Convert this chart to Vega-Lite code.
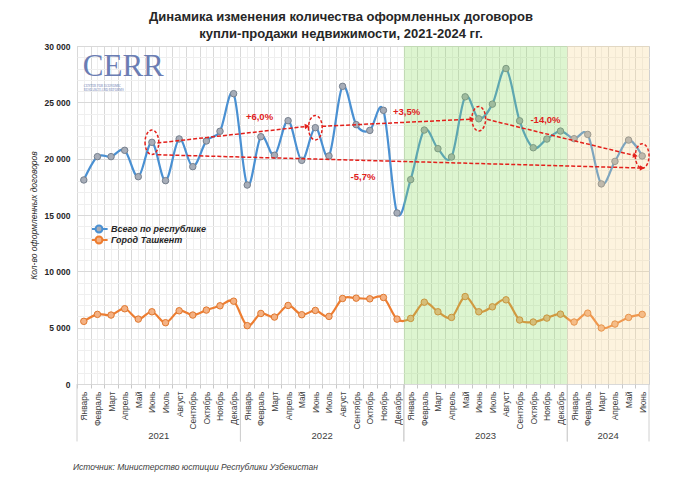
{
  "$schema": "https://vega.github.io/schema/vega-lite/v6.json",
  "autosize": "none",
  "width": 572,
  "height": 338,
  "padding": {"left": 77, "top": 46, "right": 31, "bottom": 102},
  "config": {"view": {"stroke": "#d0d0d0"}, "font": "Liberation Sans"},
  "title": {
    "text": ["Динамика изменения количества оформленных договоров", "купли-продажи недвижимости, 2021-2024 гг."],
    "font": "Liberation Sans", "fontSize": 13, "fontWeight": "bold", "color": "#262626",
    "anchor": "middle", "dx": -22, "offset": 1, "lineHeight": 17
  },
  "datasets": {
    "yearspans": [
      {"year": 2021, "start": -0.5, "end": 11.5},
      {"year": 2022, "start": 11.5, "end": 23.5},
      {"year": 2023, "start": 23.5, "end": 35.5},
      {"year": 2024, "start": 35.5, "end": 41.5}
    ],
    "arrows": [
      {"label": "+6,0%", "x1": 5.4, "y1": 21390, "x2": 16.4, "y2": 22870, "lx": 12.9, "ly": 23690},
      {"label": "+3,5%", "x1": 17.5, "y1": 22870, "x2": 28.5, "y2": 23510, "lx": 23.7, "ly": 24160},
      {"label": "-14,0%", "x1": 29.6, "y1": 23490, "x2": 40.5, "y2": 20260, "lx": 33.9, "ly": 23430},
      {"label": "-5,7%", "x1": 5.4, "y1": 20350, "x2": 41.0, "y2": 19170, "lx": 20.5, "ly": 18400}
    ]
  },
  "data": {"values": [
    {"i": 0, "year": 2021, "Всего по республике": 18110, "Город Ташкент": 5560},
    {"i": 1, "year": 2021, "Всего по республике": 20180, "Город Ташкент": 6180},
    {"i": 2, "year": 2021, "Всего по республике": 20180, "Город Ташкент": 6120},
    {"i": 3, "year": 2021, "Всего по республике": 20740, "Город Ташкент": 6680},
    {"i": 4, "year": 2021, "Всего по республике": 18400, "Город Ташкент": 5760},
    {"i": 5, "year": 2021, "Всего по республике": 21450, "Город Ташкент": 6410},
    {"i": 6, "year": 2021, "Всего по республике": 18050, "Город Ташкент": 5440},
    {"i": 7, "year": 2021, "Всего по республике": 21750, "Город Ташкент": 6500},
    {"i": 8, "year": 2021, "Всего по республике": 19290, "Город Ташкент": 6120},
    {"i": 9, "year": 2021, "Всего по республике": 21570, "Город Ташкент": 6560},
    {"i": 10, "year": 2021, "Всего по республике": 22430, "Город Ташкент": 6940},
    {"i": 11, "year": 2021, "Всего по республике": 25770, "Город Ташкент": 7350},
    {"i": 12, "year": 2022, "Всего по республике": 17660, "Город Ташкент": 5180},
    {"i": 13, "year": 2022, "Всего по республике": 21950, "Город Ташкент": 6260},
    {"i": 14, "year": 2022, "Всего по республике": 20300, "Город Ташкент": 5940},
    {"i": 15, "year": 2022, "Всего по республике": 23370, "Город Ташкент": 6970},
    {"i": 16, "year": 2022, "Всего по республике": 19850, "Город Ташкент": 6150},
    {"i": 17, "year": 2022, "Всего по республике": 22750, "Город Ташкент": 6530},
    {"i": 18, "year": 2022, "Всего по республике": 20240, "Город Ташкент": 6000},
    {"i": 19, "year": 2022, "Всего по республике": 26420, "Город Ташкент": 7590},
    {"i": 20, "year": 2022, "Всего по республике": 23020, "Город Ташкент": 7620},
    {"i": 21, "year": 2022, "Всего по республике": 22510, "Город Ташкент": 7560},
    {"i": 22, "year": 2022, "Всего по республике": 24290, "Город Ташкент": 7680},
    {"i": 23, "year": 2022, "Всего по республике": 15180, "Город Ташкент": 5760},
    {"i": 24, "year": 2023, "Всего по республике": 18140, "Город Ташкент": 5820},
    {"i": 25, "year": 2023, "Всего по республике": 22540, "Город Ташкент": 7260},
    {"i": 26, "year": 2023, "Всего по республике": 20890, "Город Ташкент": 6410},
    {"i": 27, "year": 2023, "Всего по республике": 20150, "Город Ташкент": 5910},
    {"i": 28, "year": 2023, "Всего по республике": 25490, "Город Ташкент": 7760},
    {"i": 29, "year": 2023, "Всего по республике": 23540, "Город Ташкент": 6410},
    {"i": 30, "year": 2023, "Всего по республике": 24840, "Город Ташкент": 6850},
    {"i": 31, "year": 2023, "Всего по республике": 28000, "Город Ташкент": 7470},
    {"i": 32, "year": 2023, "Всего по республике": 23360, "Город Ташкент": 5680},
    {"i": 33, "year": 2023, "Всего по республике": 20970, "Город Ташкент": 5500},
    {"i": 34, "year": 2023, "Всего по республике": 21740, "Город Ташкент": 5850},
    {"i": 35, "year": 2023, "Всего по республике": 22450, "Город Ташкент": 6200},
    {"i": 36, "year": 2024, "Всего по республике": 21770, "Город Ташкент": 5500},
    {"i": 37, "year": 2024, "Всего по республике": 22150, "Город Ташкент": 6290},
    {"i": 38, "year": 2024, "Всего по республике": 17760, "Город Ташкент": 4970},
    {"i": 39, "year": 2024, "Всего по республике": 19760, "Город Ташкент": 5320},
    {"i": 40, "year": 2024, "Всего по республике": 21650, "Город Ташкент": 5910},
    {"i": 41, "year": 2024, "Всего по республике": 20240, "Город Ташкент": 6180}
  ]},
  "resolve": {"axis": {"x": "independent", "y": "independent"}},
  "layer": [
    {
      "transform": [{"fold": ["Всего по республике", "Город Ташкент"], "as": ["series", "value"]}],
      "mark": {"type": "line", "interpolate": "cardinal", "strokeWidth": 2.2},
      "encoding": {
        "x": {"field": "i", "type": "quantitative",
          "scale": {"domain": [-0.5, 41.5], "nice": false, "zero": false},
          "axis": {
            "orient": "bottom",
            "values": [-0.5, 0.5, 1.5, 2.5, 3.5, 4.5, 5.5, 6.5, 7.5, 8.5, 9.5, 10.5, 11.5, 12.5, 13.5, 14.5, 15.5, 16.5, 17.5, 18.5, 19.5, 20.5, 21.5, 22.5, 23.5, 24.5, 25.5, 26.5, 27.5, 28.5, 29.5, 30.5, 31.5, 32.5, 33.5, 34.5, 35.5, 36.5, 37.5, 38.5, 39.5, 40.5],
            "grid": true, "gridColor": "#d9d9d9", "domain": false,
            "ticks": true, "tickSize": 4, "tickColor": "#c8c8c8",
            "labelExpr": "['Январь','Февраль','Март','Апрель','Май','Июнь','Июль','Август','Сентябрь','Октябрь','Ноябрь','Декабрь'][round(datum.value + 0.5) % 12]",
            "labelAngle": -90, "labelOffset": 6.8, "labelPadding": 3,
            "labelFont": "Liberation Sans", "labelFontSize": 8.5, "labelColor": "#404040",
            "labelBound": false, "labelOverlap": false, "labelFlush": false,
            "title": null
          }
        },
        "y": {"field": "value", "type": "quantitative",
          "scale": {"domain": [0, 30000], "nice": false},
          "axis": {
            "orient": "left",
            "values": [0, 5000, 10000, 15000, 20000, 25000, 30000],
            "grid": true, "gridColor": "#d9d9d9", "domain": false, "ticks": false,
            "labelExpr": "replace(format(datum.value, ','), ',', ' ')",
            "labelFont": "Liberation Sans", "labelFontWeight": "bold", "labelFontSize": 8.5, "labelColor": "#262626",
            "labelPadding": 7,
            "title": "Кол-во оформленных договоров",
            "titleFont": "Liberation Sans", "titleFontStyle": "italic", "titleFontWeight": "normal",
            "titleFontSize": 8.5, "titleColor": "#262626", "titlePadding": 6
          }
        },
        "color": {"field": "series", "type": "nominal",
          "scale": {"domain": ["Всего по республике", "Город Ташкент"], "range": ["#4a90d2", "#ed7d31"]},
          "legend": {
            "orient": "none", "legendX": 15, "legendY": 178, "title": null, "padding": 0,
            "symbolType": "M -1.5 0 L -0.6 0 M 0.6 0 L 1.5 0 M 0.6 0 A 0.6 0.6 0 1 0 -0.6 0 A 0.6 0.6 0 1 0 0.6 0 Z",
            "symbolSize": 132, "symbolStrokeWidth": 2, "clipHeight": 10,
            "labelFont": "Liberation Sans", "labelFontSize": 9, "labelFontStyle": "italic", "labelFontWeight": "bold",
            "labelColor": "#262626", "labelOffset": 5, "rowPadding": 1,
            "encode": {"symbols": {"update": {"fill": {"signal": "datum.value === 'Город Ташкент' ? '#f4b183' : '#a7adb8'"}}}}
          }
        }
      }
    },
    {
      "transform": [{"fold": ["Всего по республике", "Город Ташкент"], "as": ["series", "value"]}],
      "mark": {"type": "point", "filled": true, "size": 42, "strokeWidth": 1, "opacity": 1},
      "encoding": {
        "x": {"field": "i", "type": "quantitative", "axis": null},
        "y": {"field": "value", "type": "quantitative", "axis": null},
        "fill": {"field": "series", "type": "nominal",
          "scale": {"domain": ["Всего по республике", "Город Ташкент"], "range": ["#a7adb8", "#f4b183"]}, "legend": null},
        "stroke": {"field": "series", "type": "nominal",
          "scale": {"domain": ["Всего по республике", "Город Ташкент"], "range": ["#76808e", "#e0782f"]}, "legend": null}
      }
    },
    {
      "data": {"name": "yearspans"},
      "transform": [{"filter": "datum.year === 2023"}],
      "mark": {"type": "rect", "color": "#8ede62", "opacity": 0.3},
      "encoding": {
        "x": {"field": "start", "type": "quantitative",
          "axis": {"orient": "bottom", "values": [0, 1, 2, 3, 4, 5, 6, 7, 8, 9, 10, 11, 12, 13, 14, 15, 16, 17, 18, 19, 20, 21, 22, 23, 24, 25, 26, 27, 28, 29, 30, 31, 32, 33, 34, 35, 36, 37, 38, 39, 40, 41],
            "grid": true, "gridColor": "#efefef", "labels": false, "ticks": false, "domain": false, "title": null}},
        "x2": {"field": "end"},
        "y": {"datum": 0, "type": "quantitative",
          "axis": {"orient": "left", "values": [1000, 2000, 3000, 4000, 6000, 7000, 8000, 9000, 11000, 12000, 13000, 14000, 16000, 17000, 18000, 19000, 21000, 22000, 23000, 24000, 26000, 27000, 28000, 29000],
            "grid": true, "gridColor": "#efefef", "labels": false, "ticks": false, "domain": false, "title": null}},
        "y2": {"datum": 30000}
      }
    },
    {
      "data": {"name": "yearspans"},
      "transform": [{"filter": "datum.year === 2024"}],
      "mark": {"type": "rect", "color": "#f8d791", "opacity": 0.3},
      "encoding": {
        "x": {"field": "start", "type": "quantitative", "axis": null},
        "x2": {"field": "end"},
        "y": {"datum": 0, "type": "quantitative", "axis": null},
        "y2": {"datum": 30000}
      }
    },
    {
      "data": {"name": "yearspans"},
      "mark": {"type": "rule", "color": "#d0d0d0", "strokeWidth": 1},
      "encoding": {
        "x": {"field": "start", "type": "quantitative", "axis": null},
        "y": {"datum": 0, "type": "quantitative", "axis": null},
        "y2": {"datum": -5100}
      }
    },
    {
      "data": {"name": "yearspans"},
      "mark": {"type": "rule", "color": "#d0d0d0", "strokeWidth": 1},
      "encoding": {
        "x": {"field": "end", "type": "quantitative", "axis": null},
        "y": {"datum": 0, "type": "quantitative", "axis": null},
        "y2": {"datum": -5100}
      }
    },
    {
      "transform": [{"aggregate": [{"op": "mean", "field": "i", "as": "mid"}], "groupby": ["year"]}],
      "mark": {"type": "text", "font": "Liberation Sans", "fontSize": 9.5, "color": "#404040", "baseline": "middle", "align": "center"},
      "encoding": {
        "x": {"field": "mid", "type": "quantitative", "axis": null},
        "y": {"datum": -4616, "type": "quantitative", "axis": null},
        "text": {"field": "year", "type": "nominal"}
      }
    },
    {
      "data": {"name": "arrows"},
      "mark": {"type": "rule", "color": "#e3201b", "strokeWidth": 1.5, "strokeDash": [4, 2]},
      "encoding": {
        "x": {"field": "x1", "type": "quantitative", "axis": null},
        "y": {"field": "y1", "type": "quantitative", "axis": null},
        "x2": {"field": "x2"},
        "y2": {"field": "y2"}
      }
    },
    {
      "data": {"name": "arrows"},
      "transform": [{"filter": "datum.label === '+6,0%'"}],
      "mark": {"type": "point", "shape": "triangle-right", "filled": true, "color": "#e3201b", "size": 30, "angle": 353.6, "opacity": 1},
      "encoding": {"x": {"field": "x2", "type": "quantitative", "axis": null}, "y": {"field": "y2", "type": "quantitative", "axis": null}}
    },
    {
      "data": {"name": "arrows"},
      "transform": [{"filter": "datum.label === '+3,5%'"}],
      "mark": {"type": "point", "shape": "triangle-right", "filled": true, "color": "#e3201b", "size": 30, "angle": 357.2, "opacity": 1},
      "encoding": {"x": {"field": "x2", "type": "quantitative", "axis": null}, "y": {"field": "y2", "type": "quantitative", "axis": null}}
    },
    {
      "data": {"name": "arrows"},
      "transform": [{"filter": "datum.label === '-14,0%'"}],
      "mark": {"type": "point", "shape": "triangle-right", "filled": true, "color": "#e3201b", "size": 30, "angle": 13.9, "opacity": 1},
      "encoding": {"x": {"field": "x2", "type": "quantitative", "axis": null}, "y": {"field": "y2", "type": "quantitative", "axis": null}}
    },
    {
      "data": {"name": "arrows"},
      "transform": [{"filter": "datum.label === '-5,7%'"}],
      "mark": {"type": "point", "shape": "triangle-right", "filled": true, "color": "#e3201b", "size": 30, "angle": 1.6, "opacity": 1},
      "encoding": {"x": {"field": "x2", "type": "quantitative", "axis": null}, "y": {"field": "y2", "type": "quantitative", "axis": null}}
    },
    {
      "data": {"name": "arrows"},
      "mark": {"type": "text", "font": "Liberation Sans", "fontSize": 9.5, "fontWeight": "bold", "color": "#e0201b", "align": "center", "baseline": "middle"},
      "encoding": {
        "x": {"field": "lx", "type": "quantitative", "axis": null},
        "y": {"field": "ly", "type": "quantitative", "axis": null},
        "text": {"field": "label", "type": "nominal"}
      }
    },
    {
      "transform": [{"filter": {"field": "i", "oneOf": [5, 17, 29, 41]}}],
      "mark": {"type": "point", "shape": "M -0.56 0 A 0.56 1 0 1 0 0.56 0 A 0.56 1 0 1 0 -0.56 0 Z", "filled": false, "size": 600, "stroke": "#e3201b", "strokeWidth": 1.5, "strokeDash": [3, 2], "opacity": 1},
      "encoding": {
        "x": {"field": "i", "type": "quantitative", "axis": null},
        "y": {"field": "Всего по республике", "type": "quantitative", "axis": null}
      }
    },
    {
      "data": {"values": [{}]},
      "mark": {"type": "text", "text": "CERR", "font": "Liberation Serif", "fontSize": 31, "color": "#6b7db3", "align": "left", "baseline": "alphabetic", "dx": -1},
      "encoding": {"x": {"datum": 0, "type": "quantitative", "axis": null}, "y": {"datum": 27340, "type": "quantitative", "axis": null}}
    },
    {
      "data": {"values": [{}]},
      "mark": {"type": "text", "text": "CENTER FOR ECONOMIC", "font": "Liberation Serif", "fontSize": 3.2, "color": "#6b7db3", "align": "left", "baseline": "alphabetic", "dx": 0},
      "encoding": {"x": {"datum": 0, "type": "quantitative", "axis": null}, "y": {"datum": 26360, "type": "quantitative", "axis": null}}
    },
    {
      "data": {"values": [{}]},
      "mark": {"type": "text", "text": "RESEARCH AND REFORMS", "font": "Liberation Serif", "fontSize": 3.2, "color": "#6b7db3", "align": "left", "baseline": "alphabetic", "dx": 0},
      "encoding": {"x": {"datum": 0, "type": "quantitative", "axis": null}, "y": {"datum": 26050, "type": "quantitative", "axis": null}}
    },
    {
      "data": {"values": [{}]},
      "mark": {"type": "text", "text": "Источник: Министерство юстиции Республики Узбекистан", "font": "Liberation Sans", "fontSize": 8.5, "fontStyle": "italic", "color": "#404040", "align": "left", "baseline": "middle", "dx": -4},
      "encoding": {"x": {"datum": -0.5, "type": "quantitative", "axis": null}, "y": {"datum": -7370, "type": "quantitative", "axis": null}}
    }
  ]
}
